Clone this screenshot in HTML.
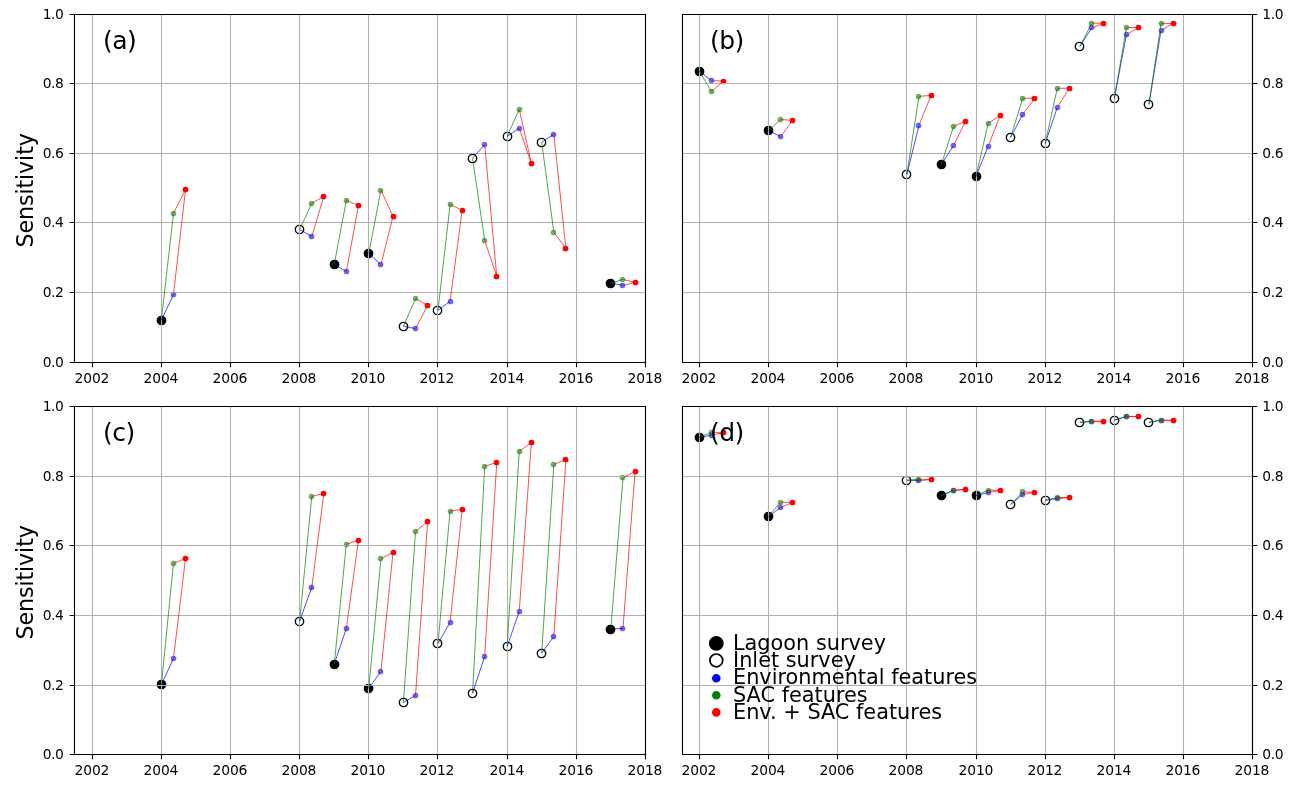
<!DOCTYPE html>
<html><head><meta charset="utf-8"><title>Sensitivity</title>
<style>html,body{margin:0;padding:0;background:#fff;}svg{display:block;}text{font-family:'DejaVu Sans', 'Liberation Sans', sans-serif;fill:#000;}</style>
</head><body>
<svg width="1300" height="785" viewBox="0 0 1300 785">
<rect width="1300" height="785" fill="#fff"/>
<g id="ax-a">
<circle cx="161.5" cy="320.5" r="4.17" fill="#000" stroke="#000" stroke-width="1.39"/>
<circle cx="299.5" cy="229.5" r="4.17" fill="#fff" stroke="#000" stroke-width="1.39"/>
<circle cx="334.5" cy="264.5" r="4.17" fill="#000" stroke="#000" stroke-width="1.39"/>
<circle cx="368.5" cy="253.5" r="4.17" fill="#000" stroke="#000" stroke-width="1.39"/>
<circle cx="403.5" cy="326.5" r="4.17" fill="#fff" stroke="#000" stroke-width="1.39"/>
<circle cx="437.5" cy="310.5" r="4.17" fill="#fff" stroke="#000" stroke-width="1.39"/>
<circle cx="472.5" cy="158.5" r="4.17" fill="#fff" stroke="#000" stroke-width="1.39"/>
<circle cx="507.5" cy="136.5" r="4.17" fill="#fff" stroke="#000" stroke-width="1.39"/>
<circle cx="541.5" cy="142.5" r="4.17" fill="#fff" stroke="#000" stroke-width="1.39"/>
<circle cx="610.5" cy="283.5" r="4.17" fill="#000" stroke="#000" stroke-width="1.39"/>
<circle cx="173.5" cy="294.5" r="2.16" fill="#0000ff" fill-opacity="0.5" stroke="#0000ff" stroke-opacity="0.5" stroke-width="1.39"/>
<circle cx="311.5" cy="236.5" r="2.16" fill="#0000ff" fill-opacity="0.5" stroke="#0000ff" stroke-opacity="0.5" stroke-width="1.39"/>
<circle cx="346.5" cy="271.5" r="2.16" fill="#0000ff" fill-opacity="0.5" stroke="#0000ff" stroke-opacity="0.5" stroke-width="1.39"/>
<circle cx="380.5" cy="264.5" r="2.16" fill="#0000ff" fill-opacity="0.5" stroke="#0000ff" stroke-opacity="0.5" stroke-width="1.39"/>
<circle cx="415.5" cy="328.5" r="2.16" fill="#0000ff" fill-opacity="0.5" stroke="#0000ff" stroke-opacity="0.5" stroke-width="1.39"/>
<circle cx="450.5" cy="301.5" r="2.16" fill="#0000ff" fill-opacity="0.5" stroke="#0000ff" stroke-opacity="0.5" stroke-width="1.39"/>
<circle cx="484.5" cy="144.5" r="2.16" fill="#0000ff" fill-opacity="0.5" stroke="#0000ff" stroke-opacity="0.5" stroke-width="1.39"/>
<circle cx="519.5" cy="128.5" r="2.16" fill="#0000ff" fill-opacity="0.5" stroke="#0000ff" stroke-opacity="0.5" stroke-width="1.39"/>
<circle cx="553.5" cy="134.5" r="2.16" fill="#0000ff" fill-opacity="0.5" stroke="#0000ff" stroke-opacity="0.5" stroke-width="1.39"/>
<circle cx="622.5" cy="285.5" r="2.16" fill="#0000ff" fill-opacity="0.5" stroke="#0000ff" stroke-opacity="0.5" stroke-width="1.39"/>
<circle cx="173.5" cy="213.5" r="2.16" fill="#008000" fill-opacity="0.5" stroke="#008000" stroke-opacity="0.5" stroke-width="1.39"/>
<circle cx="311.5" cy="203.5" r="2.16" fill="#008000" fill-opacity="0.5" stroke="#008000" stroke-opacity="0.5" stroke-width="1.39"/>
<circle cx="346.5" cy="200.5" r="2.16" fill="#008000" fill-opacity="0.5" stroke="#008000" stroke-opacity="0.5" stroke-width="1.39"/>
<circle cx="380.5" cy="190.5" r="2.16" fill="#008000" fill-opacity="0.5" stroke="#008000" stroke-opacity="0.5" stroke-width="1.39"/>
<circle cx="415.5" cy="298.5" r="2.16" fill="#008000" fill-opacity="0.5" stroke="#008000" stroke-opacity="0.5" stroke-width="1.39"/>
<circle cx="450.5" cy="204.5" r="2.16" fill="#008000" fill-opacity="0.5" stroke="#008000" stroke-opacity="0.5" stroke-width="1.39"/>
<circle cx="484.5" cy="240.5" r="2.16" fill="#008000" fill-opacity="0.5" stroke="#008000" stroke-opacity="0.5" stroke-width="1.39"/>
<circle cx="519.5" cy="109.5" r="2.16" fill="#008000" fill-opacity="0.5" stroke="#008000" stroke-opacity="0.5" stroke-width="1.39"/>
<circle cx="553.5" cy="232.5" r="2.16" fill="#008000" fill-opacity="0.5" stroke="#008000" stroke-opacity="0.5" stroke-width="1.39"/>
<circle cx="622.5" cy="279.5" r="2.16" fill="#008000" fill-opacity="0.5" stroke="#008000" stroke-opacity="0.5" stroke-width="1.39"/>
<circle cx="185.5" cy="189.5" r="2.16" fill="#ff0000" stroke="#ff0000" stroke-width="1.39"/>
<circle cx="323.5" cy="196.5" r="2.16" fill="#ff0000" stroke="#ff0000" stroke-width="1.39"/>
<circle cx="358.5" cy="205.5" r="2.16" fill="#ff0000" stroke="#ff0000" stroke-width="1.39"/>
<circle cx="393.5" cy="216.5" r="2.16" fill="#ff0000" stroke="#ff0000" stroke-width="1.39"/>
<circle cx="427.5" cy="305.5" r="2.16" fill="#ff0000" stroke="#ff0000" stroke-width="1.39"/>
<circle cx="462.5" cy="210.5" r="2.16" fill="#ff0000" stroke="#ff0000" stroke-width="1.39"/>
<circle cx="496.5" cy="276.5" r="2.16" fill="#ff0000" stroke="#ff0000" stroke-width="1.39"/>
<circle cx="531.5" cy="163.5" r="2.16" fill="#ff0000" stroke="#ff0000" stroke-width="1.39"/>
<circle cx="565.5" cy="248.5" r="2.16" fill="#ff0000" stroke="#ff0000" stroke-width="1.39"/>
<circle cx="635.5" cy="282.5" r="2.16" fill="#ff0000" stroke="#ff0000" stroke-width="1.39"/>
<path d="M92.5 14.5V362.5M161.5 14.5V362.5M230.5 14.5V362.5M299.5 14.5V362.5M368.5 14.5V362.5M437.5 14.5V362.5M507.5 14.5V362.5M576.5 14.5V362.5M645.5 14.5V362.5M74.5 362.5H645.5M74.5 292.5H645.5M74.5 222.5H645.5M74.5 153.5H645.5M74.5 83.5H645.5M74.5 14.5H645.5" stroke="#b0b0b0" stroke-width="1.11" fill="none" stroke-linecap="square"/>
<path d="M161.36 320.2L173.46 294.6M299.67 229.5L311.77 236.5M334.25 264.4L346.35 271.6M368.82 253.4L380.93 264.6M403.4 326.4L415.5 328.5M437.98 310.4L450.08 301.3M472.56 158.3L484.66 144.5M507.14 136.4L519.24 128.2M541.71 142.3L553.82 134.3M610.87 283.3L622.97 285.3" stroke="#0000ff" stroke-width="1" stroke-opacity="0.7" fill="none" stroke-linejoin="round" stroke-linecap="butt"/>
<path d="M161.36 320.2L173.46 213.3M299.67 229.5L311.77 203.3M334.25 264.4L346.35 200.4M368.82 253.4L380.93 190.1M403.4 326.4L415.5 298.4M437.98 310.4L450.08 204.3M472.56 158.3L484.66 240.6M507.14 136.4L519.24 109.3M541.71 142.3L553.82 232.3M610.87 283.3L622.97 279.4" stroke="#008000" stroke-width="1" stroke-opacity="0.7" fill="none" stroke-linejoin="round" stroke-linecap="butt"/>
<path d="M173.46 294.6L185.56 189.5L173.46 213.3M311.77 236.5L323.87 196.3L311.77 203.3M346.35 271.6L358.45 205.5L346.35 200.4M380.93 264.6L393.03 216.4L380.93 190.1M415.5 328.5L427.61 305.6L415.5 298.4M450.08 301.3L462.18 210.3L450.08 204.3M484.66 144.5L496.76 276.4L484.66 240.6M519.24 128.2L531.34 163.3L519.24 109.3M553.82 134.3L565.92 248.5L553.82 232.3M622.97 285.3L635.07 282.4L622.97 279.4" stroke="#ff0000" stroke-width="1" stroke-opacity="0.7" fill="none" stroke-linejoin="round" stroke-linecap="butt"/>
<path d="M74.5 14.5H645.5V362.5H74.5Z" stroke="#000" stroke-width="1.11" fill="none" stroke-linejoin="miter" stroke-linecap="square"/>
<path d="M92.5 362.5V367.36M161.5 362.5V367.36M230.5 362.5V367.36M299.5 362.5V367.36M368.5 362.5V367.36M437.5 362.5V367.36M507.5 362.5V367.36M576.5 362.5V367.36M645.5 362.5V367.36M74.5 362.5H69.64M74.5 292.5H69.64M74.5 222.5H69.64M74.5 153.5H69.64M74.5 83.5H69.64M74.5 14.5H69.64" stroke="#000" stroke-width="1.11" fill="none"/>
<g font-size="13.89" letter-spacing="-0.17"><text x="91.9" y="382.8" text-anchor="middle">2002</text><text x="160.9" y="382.8" text-anchor="middle">2004</text><text x="229.9" y="382.8" text-anchor="middle">2006</text><text x="298.9" y="382.8" text-anchor="middle">2008</text><text x="367.9" y="382.8" text-anchor="middle">2010</text><text x="436.9" y="382.8" text-anchor="middle">2012</text><text x="506.9" y="382.8" text-anchor="middle">2014</text><text x="575.9" y="382.8" text-anchor="middle">2016</text><text x="644.9" y="382.8" text-anchor="middle">2018</text></g>
<g font-size="13.89" letter-spacing="-0.4"><text x="63.5" y="366.8" text-anchor="end">0.0</text><text x="63.5" y="296.8" text-anchor="end">0.2</text><text x="63.5" y="226.8" text-anchor="end">0.4</text><text x="63.5" y="157.8" text-anchor="end">0.6</text><text x="63.5" y="87.8" text-anchor="end">0.8</text><text x="63.5" y="18.8" text-anchor="end">1.0</text></g>
<text x="0" y="0" font-size="22.22" letter-spacing="-0.12" text-anchor="middle" transform="translate(33.0 190.4) rotate(-90)">Sensitivity</text>
<text x="103.1" y="49.3" font-size="25" letter-spacing="-0.6">(a)</text>
</g>
<g id="ax-b">
<circle cx="699.5" cy="71.5" r="4.17" fill="#000" stroke="#000" stroke-width="1.39"/>
<circle cx="768.5" cy="130.5" r="4.17" fill="#000" stroke="#000" stroke-width="1.39"/>
<circle cx="906.5" cy="174.5" r="4.17" fill="#fff" stroke="#000" stroke-width="1.39"/>
<circle cx="941.5" cy="164.5" r="4.17" fill="#000" stroke="#000" stroke-width="1.39"/>
<circle cx="976.5" cy="176.5" r="4.17" fill="#000" stroke="#000" stroke-width="1.39"/>
<circle cx="1010.5" cy="137.5" r="4.17" fill="#fff" stroke="#000" stroke-width="1.39"/>
<circle cx="1045.5" cy="143.5" r="4.17" fill="#fff" stroke="#000" stroke-width="1.39"/>
<circle cx="1079.5" cy="46.5" r="4.17" fill="#fff" stroke="#000" stroke-width="1.39"/>
<circle cx="1114.5" cy="98.5" r="4.17" fill="#fff" stroke="#000" stroke-width="1.39"/>
<circle cx="1148.5" cy="104.5" r="4.17" fill="#fff" stroke="#000" stroke-width="1.39"/>
<circle cx="711.5" cy="80.5" r="2.16" fill="#0000ff" fill-opacity="0.5" stroke="#0000ff" stroke-opacity="0.5" stroke-width="1.39"/>
<circle cx="780.5" cy="136.5" r="2.16" fill="#0000ff" fill-opacity="0.5" stroke="#0000ff" stroke-opacity="0.5" stroke-width="1.39"/>
<circle cx="918.5" cy="125.5" r="2.16" fill="#0000ff" fill-opacity="0.5" stroke="#0000ff" stroke-opacity="0.5" stroke-width="1.39"/>
<circle cx="953.5" cy="145.5" r="2.16" fill="#0000ff" fill-opacity="0.5" stroke="#0000ff" stroke-opacity="0.5" stroke-width="1.39"/>
<circle cx="988.5" cy="146.5" r="2.16" fill="#0000ff" fill-opacity="0.5" stroke="#0000ff" stroke-opacity="0.5" stroke-width="1.39"/>
<circle cx="1022.5" cy="114.5" r="2.16" fill="#0000ff" fill-opacity="0.5" stroke="#0000ff" stroke-opacity="0.5" stroke-width="1.39"/>
<circle cx="1057.5" cy="107.5" r="2.16" fill="#0000ff" fill-opacity="0.5" stroke="#0000ff" stroke-opacity="0.5" stroke-width="1.39"/>
<circle cx="1091.5" cy="27.5" r="2.16" fill="#0000ff" fill-opacity="0.5" stroke="#0000ff" stroke-opacity="0.5" stroke-width="1.39"/>
<circle cx="1126.5" cy="34.5" r="2.16" fill="#0000ff" fill-opacity="0.5" stroke="#0000ff" stroke-opacity="0.5" stroke-width="1.39"/>
<circle cx="1161.5" cy="30.5" r="2.16" fill="#0000ff" fill-opacity="0.5" stroke="#0000ff" stroke-opacity="0.5" stroke-width="1.39"/>
<circle cx="711.5" cy="91.5" r="2.16" fill="#008000" fill-opacity="0.5" stroke="#008000" stroke-opacity="0.5" stroke-width="1.39"/>
<circle cx="780.5" cy="119.5" r="2.16" fill="#008000" fill-opacity="0.5" stroke="#008000" stroke-opacity="0.5" stroke-width="1.39"/>
<circle cx="918.5" cy="96.5" r="2.16" fill="#008000" fill-opacity="0.5" stroke="#008000" stroke-opacity="0.5" stroke-width="1.39"/>
<circle cx="953.5" cy="126.5" r="2.16" fill="#008000" fill-opacity="0.5" stroke="#008000" stroke-opacity="0.5" stroke-width="1.39"/>
<circle cx="988.5" cy="123.5" r="2.16" fill="#008000" fill-opacity="0.5" stroke="#008000" stroke-opacity="0.5" stroke-width="1.39"/>
<circle cx="1022.5" cy="98.5" r="2.16" fill="#008000" fill-opacity="0.5" stroke="#008000" stroke-opacity="0.5" stroke-width="1.39"/>
<circle cx="1057.5" cy="88.5" r="2.16" fill="#008000" fill-opacity="0.5" stroke="#008000" stroke-opacity="0.5" stroke-width="1.39"/>
<circle cx="1091.5" cy="23.5" r="2.16" fill="#008000" fill-opacity="0.5" stroke="#008000" stroke-opacity="0.5" stroke-width="1.39"/>
<circle cx="1126.5" cy="27.5" r="2.16" fill="#008000" fill-opacity="0.5" stroke="#008000" stroke-opacity="0.5" stroke-width="1.39"/>
<circle cx="1161.5" cy="23.5" r="2.16" fill="#008000" fill-opacity="0.5" stroke="#008000" stroke-opacity="0.5" stroke-width="1.39"/>
<circle cx="723.5" cy="81.5" r="2.16" fill="#ff0000" stroke="#ff0000" stroke-width="1.39"/>
<circle cx="792.5" cy="120.5" r="2.16" fill="#ff0000" stroke="#ff0000" stroke-width="1.39"/>
<circle cx="931.5" cy="95.5" r="2.16" fill="#ff0000" stroke="#ff0000" stroke-width="1.39"/>
<circle cx="965.5" cy="121.5" r="2.16" fill="#ff0000" stroke="#ff0000" stroke-width="1.39"/>
<circle cx="1000.5" cy="115.5" r="2.16" fill="#ff0000" stroke="#ff0000" stroke-width="1.39"/>
<circle cx="1034.5" cy="98.5" r="2.16" fill="#ff0000" stroke="#ff0000" stroke-width="1.39"/>
<circle cx="1069.5" cy="88.5" r="2.16" fill="#ff0000" stroke="#ff0000" stroke-width="1.39"/>
<circle cx="1103.5" cy="23.5" r="2.16" fill="#ff0000" stroke="#ff0000" stroke-width="1.39"/>
<circle cx="1138.5" cy="27.5" r="2.16" fill="#ff0000" stroke="#ff0000" stroke-width="1.39"/>
<circle cx="1173.5" cy="23.5" r="2.16" fill="#ff0000" stroke="#ff0000" stroke-width="1.39"/>
<path d="M699.5 14.5V362.5M768.5 14.5V362.5M837.5 14.5V362.5M906.5 14.5V362.5M976.5 14.5V362.5M1045.5 14.5V362.5M1114.5 14.5V362.5M1183.5 14.5V362.5M1252.5 14.5V362.5M682.5 362.5H1252.5M682.5 292.5H1252.5M682.5 222.5H1252.5M682.5 153.5H1252.5M682.5 83.5H1252.5M682.5 14.5H1252.5" stroke="#b0b0b0" stroke-width="1.11" fill="none" stroke-linecap="square"/>
<path d="M699.4 71.4L711.5 80.5M768.56 130.4L780.66 136.7M906.87 174.3L918.97 125.3M941.45 164.4L953.55 145.4M976.02 176.4L988.13 146.3M1010.6 137.4L1022.7 114.5M1045.18 143.4L1057.28 107.5M1079.76 46.6L1091.86 27.8M1114.34 98.3L1126.44 34.6M1148.91 104.3L1161.02 30.4" stroke="#0000ff" stroke-width="1" stroke-opacity="0.7" fill="none" stroke-linejoin="round" stroke-linecap="butt"/>
<path d="M699.4 71.4L711.5 91.5M768.56 130.4L780.66 119.5M906.87 174.3L918.97 96.4M941.45 164.4L953.55 126.2M976.02 176.4L988.13 123.4M1010.6 137.4L1022.7 98.3M1045.18 143.4L1057.28 88.3M1079.76 46.6L1091.86 23.1M1114.34 98.3L1126.44 27.5M1148.91 104.3L1161.02 23.4" stroke="#008000" stroke-width="1" stroke-opacity="0.7" fill="none" stroke-linejoin="round" stroke-linecap="butt"/>
<path d="M711.5 80.5L723.6 81.2L711.5 91.5M780.66 136.7L792.76 120.4L780.66 119.5M918.97 125.3L931.07 95.4L918.97 96.4M953.55 145.4L965.65 121.3L953.55 126.2M988.13 146.3L1000.23 115.3L988.13 123.4M1022.7 114.5L1034.81 98.3L1022.7 98.3M1057.28 107.5L1069.38 88.3L1057.28 88.3M1091.86 27.8L1103.96 23.4L1091.86 23.1M1126.44 34.6L1138.54 27.5L1126.44 27.5M1161.02 30.4L1173.12 23.4L1161.02 23.4" stroke="#ff0000" stroke-width="1" stroke-opacity="0.7" fill="none" stroke-linejoin="round" stroke-linecap="butt"/>
<path d="M682.5 14.5H1252.5V362.5H682.5Z" stroke="#000" stroke-width="1.11" fill="none" stroke-linejoin="miter" stroke-linecap="square"/>
<path d="M699.5 362.5V367.36M768.5 362.5V367.36M837.5 362.5V367.36M906.5 362.5V367.36M976.5 362.5V367.36M1045.5 362.5V367.36M1114.5 362.5V367.36M1183.5 362.5V367.36M1252.5 362.5V367.36M1252.5 362.5H1257.36M1252.5 292.5H1257.36M1252.5 222.5H1257.36M1252.5 153.5H1257.36M1252.5 83.5H1257.36M1252.5 14.5H1257.36" stroke="#000" stroke-width="1.11" fill="none"/>
<g font-size="13.89" letter-spacing="-0.17"><text x="698.9" y="382.8" text-anchor="middle">2002</text><text x="767.9" y="382.8" text-anchor="middle">2004</text><text x="836.9" y="382.8" text-anchor="middle">2006</text><text x="905.9" y="382.8" text-anchor="middle">2008</text><text x="975.9" y="382.8" text-anchor="middle">2010</text><text x="1044.9" y="382.8" text-anchor="middle">2012</text><text x="1113.9" y="382.8" text-anchor="middle">2014</text><text x="1182.9" y="382.8" text-anchor="middle">2016</text><text x="1251.9" y="382.8" text-anchor="middle">2018</text></g>
<g font-size="13.89" letter-spacing="-0.4"><text x="1262.22" y="366.8" text-anchor="start">0.0</text><text x="1262.22" y="296.8" text-anchor="start">0.2</text><text x="1262.22" y="226.8" text-anchor="start">0.4</text><text x="1262.22" y="157.8" text-anchor="start">0.6</text><text x="1262.22" y="87.8" text-anchor="start">0.8</text><text x="1262.22" y="18.8" text-anchor="start">1.0</text></g>
<text x="710.1" y="49.3" font-size="25" letter-spacing="-0.6">(b)</text>
</g>
<g id="ax-c">
<circle cx="161.5" cy="684.5" r="4.17" fill="#000" stroke="#000" stroke-width="1.39"/>
<circle cx="299.5" cy="621.5" r="4.17" fill="#fff" stroke="#000" stroke-width="1.39"/>
<circle cx="334.5" cy="664.5" r="4.17" fill="#000" stroke="#000" stroke-width="1.39"/>
<circle cx="368.5" cy="688.5" r="4.17" fill="#000" stroke="#000" stroke-width="1.39"/>
<circle cx="403.5" cy="702.5" r="4.17" fill="#fff" stroke="#000" stroke-width="1.39"/>
<circle cx="437.5" cy="643.5" r="4.17" fill="#fff" stroke="#000" stroke-width="1.39"/>
<circle cx="472.5" cy="693.5" r="4.17" fill="#fff" stroke="#000" stroke-width="1.39"/>
<circle cx="507.5" cy="646.5" r="4.17" fill="#fff" stroke="#000" stroke-width="1.39"/>
<circle cx="541.5" cy="653.5" r="4.17" fill="#fff" stroke="#000" stroke-width="1.39"/>
<circle cx="610.5" cy="629.5" r="4.17" fill="#000" stroke="#000" stroke-width="1.39"/>
<circle cx="173.5" cy="658.5" r="2.16" fill="#0000ff" fill-opacity="0.5" stroke="#0000ff" stroke-opacity="0.5" stroke-width="1.39"/>
<circle cx="311.5" cy="587.5" r="2.16" fill="#0000ff" fill-opacity="0.5" stroke="#0000ff" stroke-opacity="0.5" stroke-width="1.39"/>
<circle cx="346.5" cy="628.5" r="2.16" fill="#0000ff" fill-opacity="0.5" stroke="#0000ff" stroke-opacity="0.5" stroke-width="1.39"/>
<circle cx="380.5" cy="671.5" r="2.16" fill="#0000ff" fill-opacity="0.5" stroke="#0000ff" stroke-opacity="0.5" stroke-width="1.39"/>
<circle cx="415.5" cy="695.5" r="2.16" fill="#0000ff" fill-opacity="0.5" stroke="#0000ff" stroke-opacity="0.5" stroke-width="1.39"/>
<circle cx="450.5" cy="622.5" r="2.16" fill="#0000ff" fill-opacity="0.5" stroke="#0000ff" stroke-opacity="0.5" stroke-width="1.39"/>
<circle cx="484.5" cy="656.5" r="2.16" fill="#0000ff" fill-opacity="0.5" stroke="#0000ff" stroke-opacity="0.5" stroke-width="1.39"/>
<circle cx="519.5" cy="611.5" r="2.16" fill="#0000ff" fill-opacity="0.5" stroke="#0000ff" stroke-opacity="0.5" stroke-width="1.39"/>
<circle cx="553.5" cy="636.5" r="2.16" fill="#0000ff" fill-opacity="0.5" stroke="#0000ff" stroke-opacity="0.5" stroke-width="1.39"/>
<circle cx="622.5" cy="628.5" r="2.16" fill="#0000ff" fill-opacity="0.5" stroke="#0000ff" stroke-opacity="0.5" stroke-width="1.39"/>
<circle cx="173.5" cy="563.5" r="2.16" fill="#008000" fill-opacity="0.5" stroke="#008000" stroke-opacity="0.5" stroke-width="1.39"/>
<circle cx="311.5" cy="496.5" r="2.16" fill="#008000" fill-opacity="0.5" stroke="#008000" stroke-opacity="0.5" stroke-width="1.39"/>
<circle cx="346.5" cy="544.5" r="2.16" fill="#008000" fill-opacity="0.5" stroke="#008000" stroke-opacity="0.5" stroke-width="1.39"/>
<circle cx="380.5" cy="558.5" r="2.16" fill="#008000" fill-opacity="0.5" stroke="#008000" stroke-opacity="0.5" stroke-width="1.39"/>
<circle cx="415.5" cy="531.5" r="2.16" fill="#008000" fill-opacity="0.5" stroke="#008000" stroke-opacity="0.5" stroke-width="1.39"/>
<circle cx="450.5" cy="511.5" r="2.16" fill="#008000" fill-opacity="0.5" stroke="#008000" stroke-opacity="0.5" stroke-width="1.39"/>
<circle cx="484.5" cy="466.5" r="2.16" fill="#008000" fill-opacity="0.5" stroke="#008000" stroke-opacity="0.5" stroke-width="1.39"/>
<circle cx="519.5" cy="451.5" r="2.16" fill="#008000" fill-opacity="0.5" stroke="#008000" stroke-opacity="0.5" stroke-width="1.39"/>
<circle cx="553.5" cy="464.5" r="2.16" fill="#008000" fill-opacity="0.5" stroke="#008000" stroke-opacity="0.5" stroke-width="1.39"/>
<circle cx="622.5" cy="477.5" r="2.16" fill="#008000" fill-opacity="0.5" stroke="#008000" stroke-opacity="0.5" stroke-width="1.39"/>
<circle cx="185.5" cy="558.5" r="2.16" fill="#ff0000" stroke="#ff0000" stroke-width="1.39"/>
<circle cx="323.5" cy="493.5" r="2.16" fill="#ff0000" stroke="#ff0000" stroke-width="1.39"/>
<circle cx="358.5" cy="540.5" r="2.16" fill="#ff0000" stroke="#ff0000" stroke-width="1.39"/>
<circle cx="393.5" cy="552.5" r="2.16" fill="#ff0000" stroke="#ff0000" stroke-width="1.39"/>
<circle cx="427.5" cy="521.5" r="2.16" fill="#ff0000" stroke="#ff0000" stroke-width="1.39"/>
<circle cx="462.5" cy="509.5" r="2.16" fill="#ff0000" stroke="#ff0000" stroke-width="1.39"/>
<circle cx="496.5" cy="462.5" r="2.16" fill="#ff0000" stroke="#ff0000" stroke-width="1.39"/>
<circle cx="531.5" cy="442.5" r="2.16" fill="#ff0000" stroke="#ff0000" stroke-width="1.39"/>
<circle cx="565.5" cy="459.5" r="2.16" fill="#ff0000" stroke="#ff0000" stroke-width="1.39"/>
<circle cx="635.5" cy="471.5" r="2.16" fill="#ff0000" stroke="#ff0000" stroke-width="1.39"/>
<path d="M92.5 406.5V754.5M161.5 406.5V754.5M230.5 406.5V754.5M299.5 406.5V754.5M368.5 406.5V754.5M437.5 406.5V754.5M507.5 406.5V754.5M576.5 406.5V754.5M645.5 406.5V754.5M74.5 754.5H645.5M74.5 685.5H645.5M74.5 615.5H645.5M74.5 545.5H645.5M74.5 476.5H645.5M74.5 406.5H645.5" stroke="#b0b0b0" stroke-width="1.11" fill="none" stroke-linecap="square"/>
<path d="M161.36 684.9L173.46 658.4M299.67 621L311.77 587.3M334.25 664.1L346.35 628.4M368.82 688.1L380.93 671.4M403.4 702.5L415.5 695.5M437.98 643.5L450.08 622.4M472.56 693.3L484.66 656.4M507.14 646.5L519.24 611.2M541.71 653.2L553.82 636.5M610.87 629L622.97 628.4" stroke="#0000ff" stroke-width="1" stroke-opacity="0.7" fill="none" stroke-linejoin="round" stroke-linecap="butt"/>
<path d="M161.36 684.9L173.46 563.5M299.67 621L311.77 496.4M334.25 664.1L346.35 544.2M368.82 688.1L380.93 558.5M403.4 702.5L415.5 531.6M437.98 643.5L450.08 511.2M472.56 693.3L484.66 466.3M507.14 646.5L519.24 451.5M541.71 653.2L553.82 464.5M610.87 629L622.97 477.7" stroke="#008000" stroke-width="1" stroke-opacity="0.7" fill="none" stroke-linejoin="round" stroke-linecap="butt"/>
<path d="M173.46 658.4L185.56 558.4L173.46 563.5M311.77 587.3L323.87 493.5L311.77 496.4M346.35 628.4L358.45 540.4L346.35 544.2M380.93 671.4L393.03 552.5L380.93 558.5M415.5 695.5L427.61 521.3L415.5 531.6M450.08 622.4L462.18 509.4L450.08 511.2M484.66 656.4L496.76 462.5L484.66 466.3M519.24 611.2L531.34 442.4L519.24 451.5M553.82 636.5L565.92 459.4L553.82 464.5M622.97 628.4L635.07 471.4L622.97 477.7" stroke="#ff0000" stroke-width="1" stroke-opacity="0.7" fill="none" stroke-linejoin="round" stroke-linecap="butt"/>
<path d="M74.5 406.5H645.5V754.5H74.5Z" stroke="#000" stroke-width="1.11" fill="none" stroke-linejoin="miter" stroke-linecap="square"/>
<path d="M92.5 754.5V759.36M161.5 754.5V759.36M230.5 754.5V759.36M299.5 754.5V759.36M368.5 754.5V759.36M437.5 754.5V759.36M507.5 754.5V759.36M576.5 754.5V759.36M645.5 754.5V759.36M74.5 754.5H69.64M74.5 685.5H69.64M74.5 615.5H69.64M74.5 545.5H69.64M74.5 476.5H69.64M74.5 406.5H69.64" stroke="#000" stroke-width="1.11" fill="none"/>
<g font-size="13.89" letter-spacing="-0.17"><text x="91.9" y="774.8" text-anchor="middle">2002</text><text x="160.9" y="774.8" text-anchor="middle">2004</text><text x="229.9" y="774.8" text-anchor="middle">2006</text><text x="298.9" y="774.8" text-anchor="middle">2008</text><text x="367.9" y="774.8" text-anchor="middle">2010</text><text x="436.9" y="774.8" text-anchor="middle">2012</text><text x="506.9" y="774.8" text-anchor="middle">2014</text><text x="575.9" y="774.8" text-anchor="middle">2016</text><text x="644.9" y="774.8" text-anchor="middle">2018</text></g>
<g font-size="13.89" letter-spacing="-0.4"><text x="63.5" y="758.8" text-anchor="end">0.0</text><text x="63.5" y="689.8" text-anchor="end">0.2</text><text x="63.5" y="619.8" text-anchor="end">0.4</text><text x="63.5" y="549.8" text-anchor="end">0.6</text><text x="63.5" y="480.8" text-anchor="end">0.8</text><text x="63.5" y="410.8" text-anchor="end">1.0</text></g>
<text x="0" y="0" font-size="22.22" letter-spacing="-0.12" text-anchor="middle" transform="translate(33.0 582.4) rotate(-90)">Sensitivity</text>
<text x="103.1" y="441.3" font-size="25" letter-spacing="-0.6">(c)</text>
</g>
<g id="ax-d">
<circle cx="699.5" cy="437.5" r="4.17" fill="#000" stroke="#000" stroke-width="1.39"/>
<circle cx="768.5" cy="516.5" r="4.17" fill="#000" stroke="#000" stroke-width="1.39"/>
<circle cx="906.5" cy="480.5" r="4.17" fill="#fff" stroke="#000" stroke-width="1.39"/>
<circle cx="941.5" cy="495.5" r="4.17" fill="#000" stroke="#000" stroke-width="1.39"/>
<circle cx="976.5" cy="495.5" r="4.17" fill="#000" stroke="#000" stroke-width="1.39"/>
<circle cx="1010.5" cy="504.5" r="4.17" fill="#fff" stroke="#000" stroke-width="1.39"/>
<circle cx="1045.5" cy="500.5" r="4.17" fill="#fff" stroke="#000" stroke-width="1.39"/>
<circle cx="1079.5" cy="422.5" r="4.17" fill="#fff" stroke="#000" stroke-width="1.39"/>
<circle cx="1114.5" cy="420.5" r="4.17" fill="#fff" stroke="#000" stroke-width="1.39"/>
<circle cx="1148.5" cy="422.5" r="4.17" fill="#fff" stroke="#000" stroke-width="1.39"/>
<circle cx="711.5" cy="435.5" r="2.16" fill="#0000ff" fill-opacity="0.5" stroke="#0000ff" stroke-opacity="0.5" stroke-width="1.39"/>
<circle cx="780.5" cy="507.5" r="2.16" fill="#0000ff" fill-opacity="0.5" stroke="#0000ff" stroke-opacity="0.5" stroke-width="1.39"/>
<circle cx="918.5" cy="480.5" r="2.16" fill="#0000ff" fill-opacity="0.5" stroke="#0000ff" stroke-opacity="0.5" stroke-width="1.39"/>
<circle cx="953.5" cy="490.5" r="2.16" fill="#0000ff" fill-opacity="0.5" stroke="#0000ff" stroke-opacity="0.5" stroke-width="1.39"/>
<circle cx="988.5" cy="492.5" r="2.16" fill="#0000ff" fill-opacity="0.5" stroke="#0000ff" stroke-opacity="0.5" stroke-width="1.39"/>
<circle cx="1022.5" cy="494.5" r="2.16" fill="#0000ff" fill-opacity="0.5" stroke="#0000ff" stroke-opacity="0.5" stroke-width="1.39"/>
<circle cx="1057.5" cy="498.5" r="2.16" fill="#0000ff" fill-opacity="0.5" stroke="#0000ff" stroke-opacity="0.5" stroke-width="1.39"/>
<circle cx="1091.5" cy="421.5" r="2.16" fill="#0000ff" fill-opacity="0.5" stroke="#0000ff" stroke-opacity="0.5" stroke-width="1.39"/>
<circle cx="1126.5" cy="416.5" r="2.16" fill="#0000ff" fill-opacity="0.5" stroke="#0000ff" stroke-opacity="0.5" stroke-width="1.39"/>
<circle cx="1161.5" cy="420.5" r="2.16" fill="#0000ff" fill-opacity="0.5" stroke="#0000ff" stroke-opacity="0.5" stroke-width="1.39"/>
<circle cx="711.5" cy="432.5" r="2.16" fill="#008000" fill-opacity="0.5" stroke="#008000" stroke-opacity="0.5" stroke-width="1.39"/>
<circle cx="780.5" cy="502.5" r="2.16" fill="#008000" fill-opacity="0.5" stroke="#008000" stroke-opacity="0.5" stroke-width="1.39"/>
<circle cx="918.5" cy="479.5" r="2.16" fill="#008000" fill-opacity="0.5" stroke="#008000" stroke-opacity="0.5" stroke-width="1.39"/>
<circle cx="953.5" cy="490.5" r="2.16" fill="#008000" fill-opacity="0.5" stroke="#008000" stroke-opacity="0.5" stroke-width="1.39"/>
<circle cx="988.5" cy="490.5" r="2.16" fill="#008000" fill-opacity="0.5" stroke="#008000" stroke-opacity="0.5" stroke-width="1.39"/>
<circle cx="1022.5" cy="491.5" r="2.16" fill="#008000" fill-opacity="0.5" stroke="#008000" stroke-opacity="0.5" stroke-width="1.39"/>
<circle cx="1057.5" cy="497.5" r="2.16" fill="#008000" fill-opacity="0.5" stroke="#008000" stroke-opacity="0.5" stroke-width="1.39"/>
<circle cx="1091.5" cy="421.5" r="2.16" fill="#008000" fill-opacity="0.5" stroke="#008000" stroke-opacity="0.5" stroke-width="1.39"/>
<circle cx="1126.5" cy="416.5" r="2.16" fill="#008000" fill-opacity="0.5" stroke="#008000" stroke-opacity="0.5" stroke-width="1.39"/>
<circle cx="1161.5" cy="420.5" r="2.16" fill="#008000" fill-opacity="0.5" stroke="#008000" stroke-opacity="0.5" stroke-width="1.39"/>
<circle cx="723.5" cy="432.5" r="2.16" fill="#ff0000" stroke="#ff0000" stroke-width="1.39"/>
<circle cx="792.5" cy="502.5" r="2.16" fill="#ff0000" stroke="#ff0000" stroke-width="1.39"/>
<circle cx="931.5" cy="479.5" r="2.16" fill="#ff0000" stroke="#ff0000" stroke-width="1.39"/>
<circle cx="965.5" cy="489.5" r="2.16" fill="#ff0000" stroke="#ff0000" stroke-width="1.39"/>
<circle cx="1000.5" cy="490.5" r="2.16" fill="#ff0000" stroke="#ff0000" stroke-width="1.39"/>
<circle cx="1034.5" cy="492.5" r="2.16" fill="#ff0000" stroke="#ff0000" stroke-width="1.39"/>
<circle cx="1069.5" cy="497.5" r="2.16" fill="#ff0000" stroke="#ff0000" stroke-width="1.39"/>
<circle cx="1103.5" cy="421.5" r="2.16" fill="#ff0000" stroke="#ff0000" stroke-width="1.39"/>
<circle cx="1138.5" cy="416.5" r="2.16" fill="#ff0000" stroke="#ff0000" stroke-width="1.39"/>
<circle cx="1173.5" cy="420.5" r="2.16" fill="#ff0000" stroke="#ff0000" stroke-width="1.39"/>
<path d="M699.5 406.5V754.5M768.5 406.5V754.5M837.5 406.5V754.5M906.5 406.5V754.5M976.5 406.5V754.5M1045.5 406.5V754.5M1114.5 406.5V754.5M1183.5 406.5V754.5M1252.5 406.5V754.5M682.5 754.5H1252.5M682.5 685.5H1252.5M682.5 615.5H1252.5M682.5 545.5H1252.5M682.5 476.5H1252.5M682.5 406.5H1252.5" stroke="#b0b0b0" stroke-width="1.11" fill="none" stroke-linecap="square"/>
<path d="M699.4 437.3L711.5 435.2M768.56 516.3L780.66 507.4M906.87 480.2L918.97 480.7M941.45 495.5L953.55 490.4M976.02 495.5L988.13 492.5M1010.6 504.4L1022.7 494.6M1045.18 500.2L1057.28 498.7M1079.76 422.3L1091.86 421.3M1114.34 420.2L1126.44 416.5M1148.91 422.3L1161.02 420.2" stroke="#0000ff" stroke-width="1" stroke-opacity="0.7" fill="none" stroke-linejoin="round" stroke-linecap="butt"/>
<path d="M699.4 437.3L711.5 432.2M768.56 516.3L780.66 502.2M906.87 480.2L918.97 479.2M941.45 495.5L953.55 490.4M976.02 495.5L988.13 490.1M1010.6 504.4L1022.7 491.9M1045.18 500.2L1057.28 497.5M1079.76 422.3L1091.86 421.3M1114.34 420.2L1126.44 416.5M1148.91 422.3L1161.02 420.2" stroke="#008000" stroke-width="1" stroke-opacity="0.7" fill="none" stroke-linejoin="round" stroke-linecap="butt"/>
<path d="M711.5 435.2L723.6 432.5L711.5 432.2M780.66 507.4L792.76 502.4L780.66 502.2M918.97 480.7L931.07 479.6L918.97 479.2M953.55 490.4L965.65 489.4L953.55 490.4M988.13 492.5L1000.23 490.4L988.13 490.1M1022.7 494.6L1034.81 492.4L1022.7 491.9M1057.28 498.7L1069.38 497.5L1057.28 497.5M1091.86 421.3L1103.96 421.4L1091.86 421.3M1126.44 416.5L1138.54 416.4L1126.44 416.5M1161.02 420.2L1173.12 420.5L1161.02 420.2" stroke="#ff0000" stroke-width="1" stroke-opacity="0.7" fill="none" stroke-linejoin="round" stroke-linecap="butt"/>
<path d="M682.5 406.5H1252.5V754.5H682.5Z" stroke="#000" stroke-width="1.11" fill="none" stroke-linejoin="miter" stroke-linecap="square"/>
<path d="M699.5 754.5V759.36M768.5 754.5V759.36M837.5 754.5V759.36M906.5 754.5V759.36M976.5 754.5V759.36M1045.5 754.5V759.36M1114.5 754.5V759.36M1183.5 754.5V759.36M1252.5 754.5V759.36M1252.5 754.5H1257.36M1252.5 685.5H1257.36M1252.5 615.5H1257.36M1252.5 545.5H1257.36M1252.5 476.5H1257.36M1252.5 406.5H1257.36" stroke="#000" stroke-width="1.11" fill="none"/>
<g font-size="13.89" letter-spacing="-0.17"><text x="698.9" y="774.8" text-anchor="middle">2002</text><text x="767.9" y="774.8" text-anchor="middle">2004</text><text x="836.9" y="774.8" text-anchor="middle">2006</text><text x="905.9" y="774.8" text-anchor="middle">2008</text><text x="975.9" y="774.8" text-anchor="middle">2010</text><text x="1044.9" y="774.8" text-anchor="middle">2012</text><text x="1113.9" y="774.8" text-anchor="middle">2014</text><text x="1182.9" y="774.8" text-anchor="middle">2016</text><text x="1251.9" y="774.8" text-anchor="middle">2018</text></g>
<g font-size="13.89" letter-spacing="-0.4"><text x="1262.22" y="758.8" text-anchor="start">0.0</text><text x="1262.22" y="689.8" text-anchor="start">0.2</text><text x="1262.22" y="619.8" text-anchor="start">0.4</text><text x="1262.22" y="549.8" text-anchor="start">0.6</text><text x="1262.22" y="480.8" text-anchor="start">0.8</text><text x="1262.22" y="410.8" text-anchor="start">1.0</text></g>
<text x="710.1" y="441.3" font-size="25" letter-spacing="-0.6">(d)</text>
</g>
<g id="legend"><circle cx="716.3" cy="643.4" r="6.7" fill="#000" stroke="#000" stroke-width="1.39"/><circle cx="716.3" cy="660.4" r="6.4" fill="#fff" stroke="#000" stroke-width="1.7"/><circle cx="716.3" cy="678.3" r="3.6" fill="#0000ff" stroke="#0000ff" stroke-width="1.39"/><circle cx="716.3" cy="695.3" r="3.6" fill="#008000" stroke="#008000" stroke-width="1.39"/><circle cx="716.3" cy="712.4" r="3.6" fill="#ff0000" stroke="#ff0000" stroke-width="1.39"/><text x="733.0" y="650" font-size="20.83">Lagoon survey</text><text x="733.0" y="667" font-size="20.83">Inlet survey</text><text x="733.0" y="684.4" font-size="20.83">Environmental features</text><text x="733.0" y="701.6" font-size="20.83">SAC features</text><text x="733.0" y="718.9" font-size="20.83">Env. + SAC features</text></g>
</svg>
</body></html>
